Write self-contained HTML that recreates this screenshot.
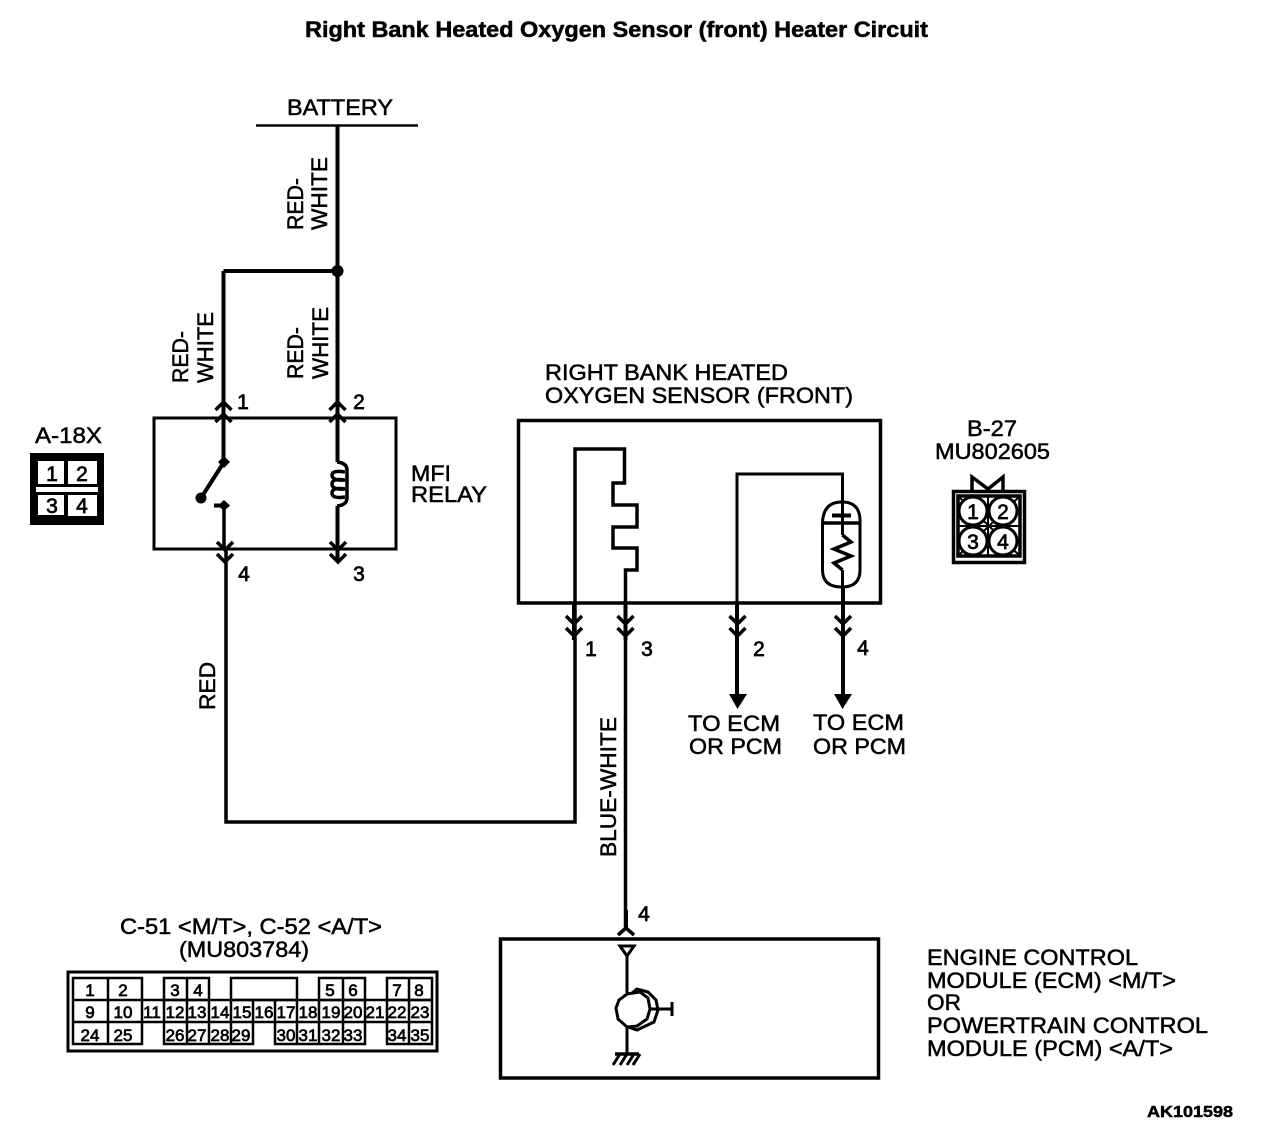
<!DOCTYPE html>
<html><head><meta charset="utf-8"><style>
html,body{margin:0;padding:0;background:#fff}
svg{display:block}
text{font-family:"Liberation Sans",sans-serif;fill:#000;stroke:#000;stroke-width:.5}
.n{font-size:22px}
.c{font-size:17px;text-anchor:middle;stroke-width:.7}
.d{font-size:21px;text-anchor:middle;stroke-width:.7}
</style></head><body>
<svg width="1280" height="1146" viewBox="0 0 1280 1146" xmlns="http://www.w3.org/2000/svg">
<defs>
<g id="up" fill="none" stroke="#000" stroke-width="3.500"><path d="M-8 -2L0 -10L8 -2M-8 10L0 2L8 10"/></g>
<g id="dn" fill="none" stroke="#000" stroke-width="3.500"><path d="M-8 -10L0 -2L8 -10M-8 2L0 10L8 2"/></g>
</defs>
<text x="305" y="37" font-size="22" font-weight="bold" textLength="623" lengthAdjust="spacingAndGlyphs">Right Bank Heated Oxygen Sensor (front) Heater Circuit</text>
<text class="n" x="287" y="115" textLength="106" lengthAdjust="spacingAndGlyphs">BATTERY</text>
<g fill="none" stroke="#000">
<path d="M256 125.500H418" stroke-width="2.500"/>
<path d="M337.500 125V462M337.500 506V560M223.500 271H337.500M223.500 271V462" stroke-width="4"/>
<rect x="154" y="418" width="242" height="131" stroke-width="3"/>
<rect x="518.500" y="420.500" width="362" height="182.500" stroke-width="3.500"/>
<rect x="500.500" y="939" width="378" height="139" stroke-width="3.500"/>
<path d="M224 462L201 498" stroke-width="4"/>
<path d="M224 505V549M226 549V822H575V449H624.500V483H613V505H637V527H613V548H637V570H625.500V928" stroke-width="3.500"/>
<path d="M214 505.500H224" stroke-width="4"/>
<path d="M337 462Q347 463 347 470V498Q347 505 337 506" stroke-width="3.500"/>
<path d="M345 472Q332 470 332 475Q332 481 345 480Q332 478 332 484Q332 490 345 489Q332 487 332 493Q332 499 345 497" stroke-width="3.500"/>
<path d="M737 603V474H842.500V535M842.500 570V590" stroke-width="3"/>
<path d="M737 603V698M843 587V698" stroke-width="4"/>
<path d="M822.500 523Q823 502 842 502Q861 502 860 523V570Q860 587 842 587Q822.500 587 822.500 570Z" stroke-width="3"/>
<path d="M822.500 523H860" stroke-width="3.500"/>
<path d="M832 515.500H851" stroke-width="4"/>
<path d="M842.500 535L851 542L834 549L851 556L834 563L842.500 570" stroke-width="3.500"/>
<path d="M574 603V640M625.500 603V640" stroke-width="4"/>
<path d="M626 910V928" stroke-width="4"/>
</g>
<circle cx="337.500" cy="271" r="6"/>
<use href="#up" x="223.500" y="412"/><use href="#up" x="337.500" y="412"/>
<use href="#dn" x="225" y="552"/><use href="#dn" x="338" y="552"/>
<use href="#dn" x="574" y="626"/><use href="#dn" x="625.500" y="626"/><use href="#dn" x="737.500" y="626"/><use href="#dn" x="843" y="626"/>
<path d="M729 694H747L737.500 709ZM834 694H852L842.500 709Z"/>
<path d="M224 456L230 462L224 468L218 462Z"/><path d="M218 505.500L224 500L230 505.500L224 511Z"/>
<circle cx="201" cy="498" r="5.500"/>
<path d="M618 935L626 928L634 935" fill="none" stroke="#000" stroke-width="3.500"/>

<text class="n" transform="translate(303,230) rotate(-90)" textLength="52" lengthAdjust="spacingAndGlyphs">RED-</text>
<text class="n" transform="translate(327,230) rotate(-90)" textLength="73" lengthAdjust="spacingAndGlyphs">WHITE</text>
<text class="n" transform="translate(188,383) rotate(-90)" textLength="52" lengthAdjust="spacingAndGlyphs">RED-</text>
<text class="n" transform="translate(213,383) rotate(-90)" textLength="71" lengthAdjust="spacingAndGlyphs">WHITE</text>
<text class="n" transform="translate(303,379) rotate(-90)" textLength="52" lengthAdjust="spacingAndGlyphs">RED-</text>
<text class="n" transform="translate(328,379) rotate(-90)" textLength="72" lengthAdjust="spacingAndGlyphs">WHITE</text>
<text class="n" transform="translate(215,710) rotate(-90)" textLength="48" lengthAdjust="spacingAndGlyphs">RED</text>
<text class="n" transform="translate(616,857) rotate(-90)" textLength="140" lengthAdjust="spacingAndGlyphs">BLUE-WHITE</text>

<text class="d" x="243" y="409">1</text><text class="d" x="359" y="409">2</text>
<text class="d" x="244" y="581">4</text><text class="d" x="359" y="581">3</text>
<text class="d" x="591" y="656">1</text><text class="d" x="647" y="656">3</text><text class="d" x="759" y="656">2</text><text class="d" x="863" y="655">4</text>
<text class="d" x="644" y="921">4</text>

<text class="n" x="411" y="481" textLength="40" lengthAdjust="spacingAndGlyphs">MFI</text>
<text class="n" x="411" y="502" textLength="76" lengthAdjust="spacingAndGlyphs">RELAY</text>
<text class="n" x="545" y="380" textLength="243" lengthAdjust="spacingAndGlyphs">RIGHT BANK HEATED</text>
<text class="n" x="545" y="403" textLength="308" lengthAdjust="spacingAndGlyphs">OXYGEN SENSOR (FRONT)</text>
<text class="n" x="967" y="436" textLength="50" lengthAdjust="spacingAndGlyphs">B-27</text>
<text class="n" x="935" y="459" textLength="115" lengthAdjust="spacingAndGlyphs">MU802605</text>
<text class="n" x="35" y="443" textLength="67" lengthAdjust="spacingAndGlyphs">A-18X</text>
<text class="n" x="688" y="731" textLength="92" lengthAdjust="spacingAndGlyphs">TO ECM</text>
<text class="n" x="689" y="754" textLength="93" lengthAdjust="spacingAndGlyphs">OR PCM</text>
<text class="n" x="813" y="730" textLength="91" lengthAdjust="spacingAndGlyphs">TO ECM</text>
<text class="n" x="813" y="754" textLength="93" lengthAdjust="spacingAndGlyphs">OR PCM</text>
<text class="n" x="120" y="934" textLength="262" lengthAdjust="spacingAndGlyphs">C-51 &lt;M/T&gt;, C-52 &lt;A/T&gt;</text>
<text class="n" x="179" y="957" textLength="130" lengthAdjust="spacingAndGlyphs">(MU803784)</text>
<text class="n" x="927" y="965" textLength="211" lengthAdjust="spacingAndGlyphs">ENGINE CONTROL</text>
<text class="n" x="927" y="988" textLength="249" lengthAdjust="spacingAndGlyphs">MODULE (ECM) &lt;M/T&gt;</text>
<text class="n" x="927" y="1010" textLength="34" lengthAdjust="spacingAndGlyphs">OR</text>
<text class="n" x="927" y="1033" textLength="281" lengthAdjust="spacingAndGlyphs">POWERTRAIN CONTROL</text>
<text class="n" x="927" y="1056" textLength="246" lengthAdjust="spacingAndGlyphs">MODULE (PCM) &lt;A/T&gt;</text>
<text x="1147" y="1117" font-size="16" font-weight="bold" textLength="86" lengthAdjust="spacingAndGlyphs">AK101598</text>

<!-- A-18X connector -->
<rect x="30" y="453" width="74" height="72"/>
<g fill="#fff"><rect x="38" y="461" width="26" height="23"/><rect x="68" y="461" width="29" height="23"/><rect x="36" y="487" width="62" height="5"/><rect x="38" y="495" width="26" height="20"/><rect x="68" y="495" width="29" height="21"/></g>
<text class="d" x="52" y="481">1</text><text class="d" x="82" y="481">2</text><text class="d" x="52" y="513">3</text><text class="d" x="82" y="513">4</text>

<!-- B-27 connector -->
<g fill="none" stroke="#000">
<path d="M972 491V477L988 489L1003 477V491" stroke-width="3.500"/>
<rect x="953.500" y="491.500" width="71" height="71" stroke-width="3.500"/>
<rect x="958" y="496" width="62" height="60" stroke-width="3.500"/>
<path d="M988 496V556M958 526H1020M958 496L1020 556M1020 496L958 556" stroke-width="2"/>
</g>
<g fill="#fff" stroke="#000" stroke-width="3"><circle cx="973" cy="511" r="14"/><circle cx="1003" cy="511" r="14"/><circle cx="973" cy="541" r="14"/><circle cx="1003" cy="541" r="14"/></g>
<text class="d" x="973" y="519">1</text><text class="d" x="1003" y="519">2</text><text class="d" x="973" y="549">3</text><text class="d" x="1003" y="549">4</text>

<!-- C connector -->
<rect x="68" y="972" width="369" height="79" fill="none" stroke="#000" stroke-width="3"/>
<g fill="none" stroke="#000" stroke-width="2.500">
<path d="M73 978H142V1044H73ZM108 978V1044M73 1000H142M73 1022H142"/>
<path d="M164 978H209V1000H164ZM187 978V1000"/>
<path d="M231 978H297V1000H231Z"/>
<path d="M319 978H365V1000H319ZM343 978V1000"/>
<path d="M387 978H432V1044H387ZM409 978V1044M387 1000H432M387 1022H432"/>
<path d="M164 1000V1044H253V1022M187 1000V1044M209 1000V1044M231 1000V1044"/>
<path d="M164 1022H253"/>
<path d="M275 1022V1044H365V1000M297 1000V1044M319 1000V1044M343 1000V1044M275 1022H365M275 1000V1022"/>
<path d="M142 1000H432M142 1022H164M365 1022H387M253 1000V1022M253 1022H275"/>
</g>
<g>
<text class="c" x="90" y="996">1</text><text class="c" x="123" y="996">2</text><text class="c" x="175" y="996">3</text><text class="c" x="198" y="996">4</text><text class="c" x="330" y="996">5</text><text class="c" x="353" y="996">6</text><text class="c" x="397" y="996">7</text><text class="c" x="419" y="996">8</text>
<text class="c" x="90" y="1018">9</text><text class="c" x="123" y="1018">10</text><text class="c" x="152" y="1018">11</text><text class="c" x="175" y="1018">12</text><text class="c" x="197" y="1018">13</text><text class="c" x="220" y="1018">14</text><text class="c" x="242" y="1018">15</text><text class="c" x="264" y="1018">16</text><text class="c" x="286" y="1018">17</text><text class="c" x="308" y="1018">18</text><text class="c" x="331" y="1018">19</text><text class="c" x="353" y="1018">20</text><text class="c" x="375" y="1018">21</text><text class="c" x="397" y="1018">22</text><text class="c" x="420" y="1018">23</text>
<text class="c" x="90" y="1041">24</text><text class="c" x="123" y="1041">25</text><text class="c" x="175" y="1041">26</text><text class="c" x="197" y="1041">27</text><text class="c" x="220" y="1041">28</text><text class="c" x="241" y="1041">29</text><text class="c" x="286" y="1041">30</text><text class="c" x="308" y="1041">31</text><text class="c" x="331" y="1041">32</text><text class="c" x="353" y="1041">33</text><text class="c" x="397" y="1041">34</text><text class="c" x="420" y="1041">35</text>
</g>

<!-- Transistor -->
<g fill="none" stroke="#000">
<path d="M620 946H634L627 956Z" stroke-width="3"/>
<path d="M627 956V993M627 1026V1053" stroke-width="3"/>
<path d="M627 994L640 992L648 998L650 1009L647 1019L637 1026L627 1027L618 1019L616 1008L619 1000Z" stroke-width="3"/>
<path d="M632 993L637 989L648 992L656 1000L658 1010L654 1022L637 1030L628 1027" stroke-width="3"/>
<path d="M650 1009H672M672 1002V1016" stroke-width="3"/>
<path d="M615 1054H639" stroke-width="3.500"/>
<path d="M620 1054L613 1065M627 1054L620 1065M634 1054L627 1065M640 1054L633 1065" stroke-width="3"/>
</g>
</svg>
</body></html>
